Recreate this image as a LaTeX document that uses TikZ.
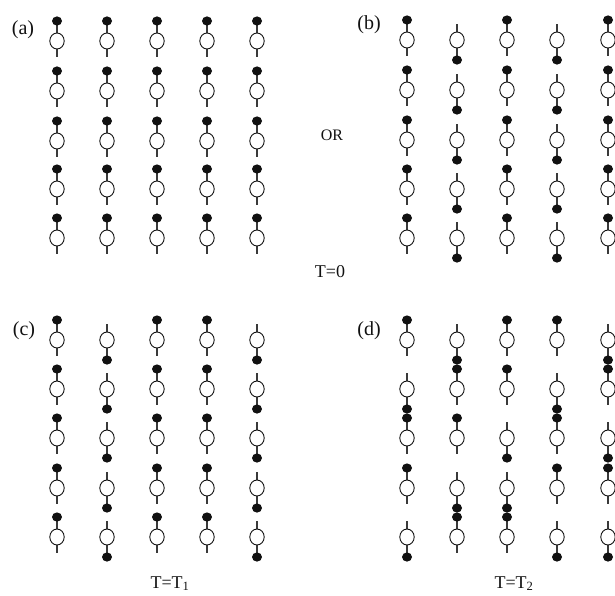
\documentclass[tikz,border=0pt]{standalone}
\usepackage{fontspec}
\setmainfont{Liberation Serif}
\usetikzlibrary{positioning}
\definecolor{stemgray}{HTML}{3A3A3A}
\definecolor{inkblack}{HTML}{111111}

\begin{document}
\begin{tikzpicture}[x=1pt, y=-1pt,
    ring/.style={draw=inkblack, line width=0.9pt, fill=white},
    stem/.style={draw=stemgray, line width=1.1pt},
    charge/.style={fill=inkblack},
    panel/.style={font=\fontsize{20}{22}\selectfont, text=inkblack, anchor=base},
    tlabel/.style={font=\fontsize{18}{20}\selectfont, text=inkblack, anchor=base}]
  \useasboundingbox (0,0) rectangle (615,595);

  % (a) todos los dipolos alineados hacia arriba
  \foreach \x in {57,107,157,207,257} {
    \foreach \y in {41,91,141,189,238} {
      \begin{scope}[shift={(\x,\y)}]
        \draw[stem] (0,-20) -- (0,16);
        \draw[ring] (0,0) ellipse (7.2pt and 8pt);
        \fill[charge] (0,-20) ellipse (5pt and 4.6pt);
      \end{scope}
    }
  }

  % (b) columnas alternadas
  \foreach \x/\s in {407/1, 457/-1, 507/1, 557/-1, 608/1} {
    \foreach \y in {40,90,140,189,238} {
      \begin{scope}[shift={(\x,\y)}, yscale=\s]
        \draw[stem] (0,-20) -- (0,16);
        \draw[ring] (0,0) ellipse (7.2pt and 8pt);
        \fill[charge] (0,-20) ellipse (5pt and 4.6pt);
      \end{scope}
    }
  }

  % (c) T = T1, columnas invertidas
  \foreach \x/\s in {57/1, 107/-1, 157/1, 207/1, 257/-1} {
    \foreach \y in {340,389,438,488,537} {
      \begin{scope}[shift={(\x,\y)}, yscale=\s]
        \draw[stem] (0,-20) -- (0,16);
        \draw[ring] (0,0) ellipse (7.2pt and 8pt);
        \fill[charge] (0,-20) ellipse (5pt and 4.6pt);
      \end{scope}
    }
  }

  % (d) T = T2, orientacion de cada dipolo
  \foreach \x/\y/\s in {407/340/1, 407/389/-1, 407/438/1, 407/488/1, 407/537/-1,
                        457/340/-1, 457/389/1, 457/438/1, 457/488/-1, 457/537/1,
                        507/340/1, 507/389/1, 507/438/-1, 507/488/-1, 507/537/1,
                        557/340/1, 557/389/-1, 557/438/1, 557/488/1, 557/537/-1,
                        608/340/-1, 608/389/1, 608/438/-1, 608/488/1, 608/537/-1} {
    \begin{scope}[shift={(\x,\y)}, yscale=\s]
      \draw[stem] (0,-20) -- (0,16);
      \draw[ring] (0,0) ellipse (7.2pt and 8pt);
      \fill[charge] (0,-20) ellipse (5pt and 4.6pt);
    \end{scope}
  }

  % Rotulos
  \node[panel] (la) at (23,34) {(a)};
  \node[panel] (lb) at (369,29) {(b)};
  \node[panel] (lc) at (24,335) {(c)};
  \node[panel] (ld) at (369,335) {(d)};
  \node[tlabel, font=\fontsize{16}{18}\selectfont] (lor) at (332,140) {OR};
  \node[tlabel] (t0) at (330,277) {T=0};
  \node[tlabel] (t1) at (170,588) {T=T\textsubscript{1}};
  \node[tlabel] (t2) at (514,588) {T=T\textsubscript{2}};
\end{tikzpicture}
\end{document}
